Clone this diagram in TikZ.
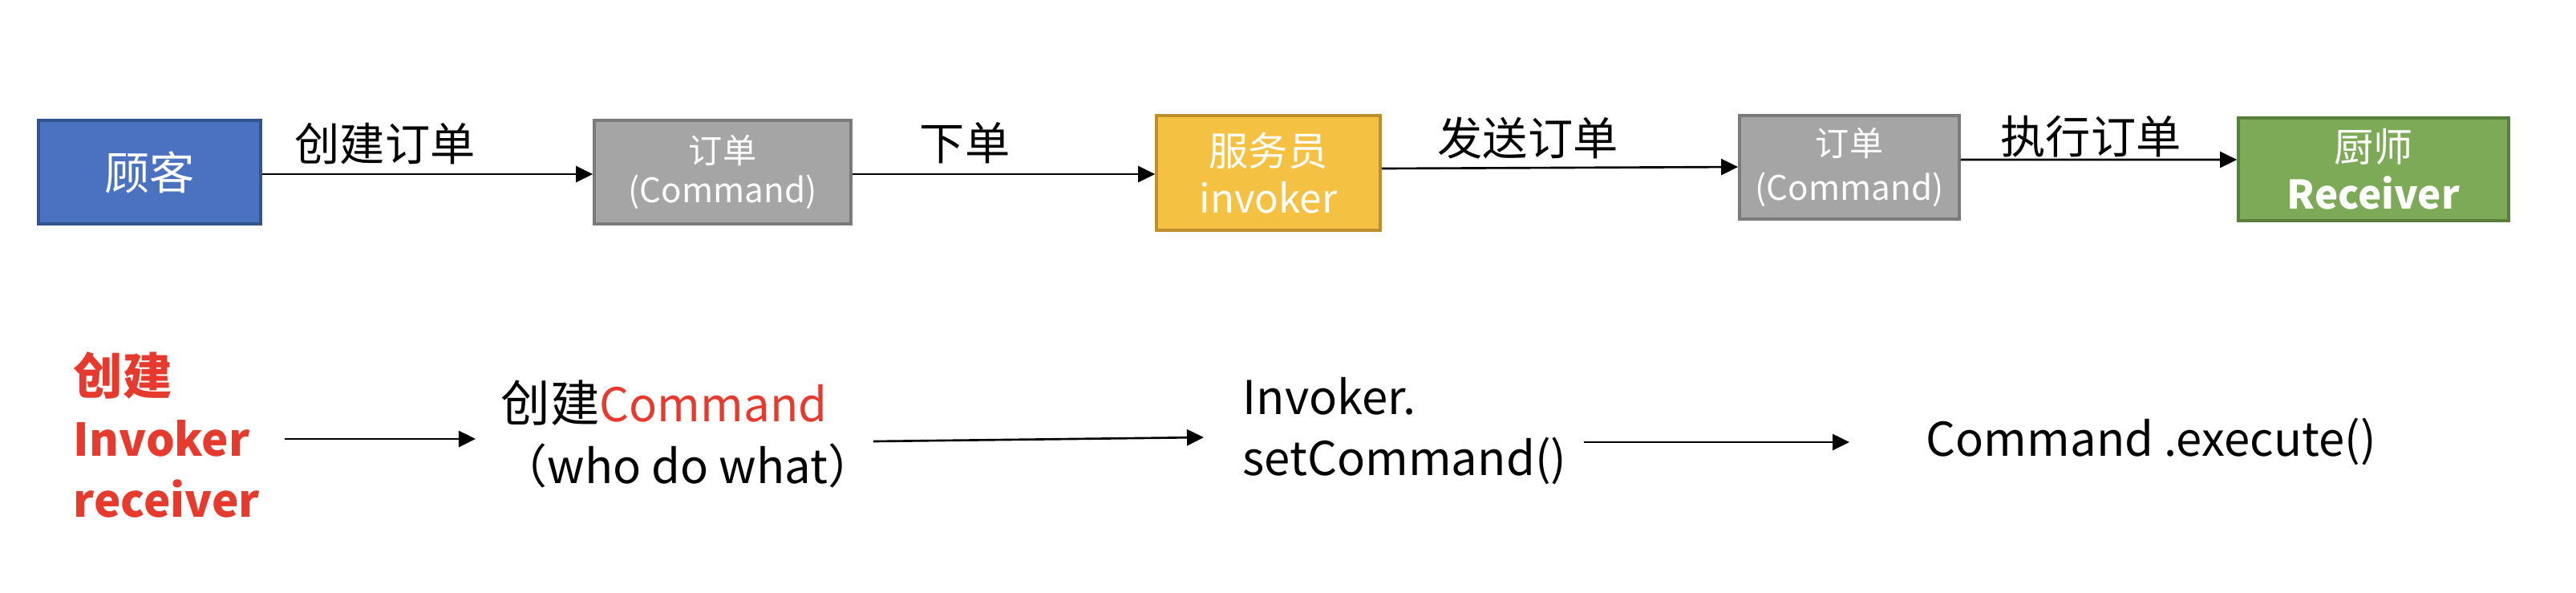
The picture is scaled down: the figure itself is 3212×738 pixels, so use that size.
\documentclass[tikz,border=0pt]{standalone}
\usepackage{fontspec}
\setmainfont{Noto Sans CJK SC}
\usetikzlibrary{arrows.meta}
\definecolor{cBlue}{HTML}{4A72C0}
\definecolor{cBlueD}{HTML}{33558E}
\definecolor{cGray}{HTML}{A5A5A5}
\definecolor{cGrayD}{HTML}{7A7A7A}
\definecolor{cGold}{HTML}{F4C143}
\definecolor{cGoldD}{HTML}{BE8F2E}
\definecolor{cGreen}{HTML}{7CAA56}
\definecolor{cGreenD}{HTML}{58803A}
\definecolor{cRed}{HTML}{E53A2D}
\newcommand\myfs[2]{\fontsize{#1pt}{#2pt}\selectfont}
\tikzset{
  box/.style={draw, line width=1pt, inner sep=0pt, align=center, text=white},
  lbl/.style={inner sep=0pt, font=\myfs{16}{19}},
  txt/.style={inner sep=0pt, anchor=west, align=left, font=\myfs{16.5}{21.8}},
  arr/.style={-{Triangle[length=0.21cm,width=0.2cm]}, line width=0.75pt},
}
\begin{document}
\begin{tikzpicture}[x=0.01cm,y=-0.01cm]
\useasboundingbox (0,0) rectangle (3212,738);
% top row boxes
\node[box, fill=cBlue, draw=cBlueD, minimum width=2.77cm, minimum height=1.29cm, font=\myfs{16}{19}] (b1) at (186.5,214.5) {顾客};
\node[box, fill=cGray, draw=cGrayD, minimum width=3.20cm, minimum height=1.29cm, font=\myfs{12}{14.2}] (b2) at (901,214.5) {订单\\(Command)};
\node[box, fill=cGold, draw=cGoldD, minimum width=2.79cm, minimum height=1.43cm, font=\myfs{14}{16.8}] (b3) at (1581.5,215.5) {服务员\\invoker};
\node[box, fill=cGray, draw=cGrayD, minimum width=2.74cm, minimum height=1.29cm, font=\myfs{12}{15.5}] (b4) at (2306,208.5) {订单\\(Command)};
\node[box, fill=cGreen, draw=cGreenD, minimum width=3.37cm, minimum height=1.28cm, font=\myfs{14}{16.8}] (b5) at (2959.5,211) {厨师\\\textbf{Receiver}};
% top labels
\node[lbl] (l1) at (480,179) {创建订单};
\node[lbl] (l2) at (1203,178) {下单};
\node[lbl] (l3) at (1905,172) {发送订单};
\node[lbl] (l4) at (2607,170) {执行订单};
% top arrows
\draw[arr] ([yshift=-0.025cm]b1.east) -- ([yshift=-0.025cm]b2.west);
\draw[arr] ([yshift=-0.025cm]b2.east) -- ([yshift=-0.015cm]b3.west);
\draw[arr] ([yshift=0.055cm]b3.east) -- ([yshift=0.005cm]b4.west);
\draw[arr] ([yshift=0.095cm]b4.east) -- ([yshift=0.12cm]b5.west);
% bottom row
\node[txt, text=cRed, font=\bfseries\myfs{16}{21.8}] (t1) at (91,542) {{\myfs{17.5}{21.8}创建}\\Invoker\\receiver};
\node[txt] (t2) at (624,541) {{\myfs{17.5}{21.8}创建}\textcolor{cRed}{Command}\\（who do what）};
\node[txt] (t3) at (1549,537) {Invoker.\\setCommand()};
\node[txt] (t4) at (2401,550) {Command .execute()};
\draw[arr] ([shift={(30,5)}]t1.east) -- ([shift={(-31,6)}]t2.west);
\draw[arr] ([shift={(-2,9)}]t2.east) -- ([shift={(-48,8)}]t3.west);
\draw[arr] ([shift={(21,14)}]t3.east) -- ([shift={(-95,1)}]t4.west);
\end{tikzpicture}
\end{document}
